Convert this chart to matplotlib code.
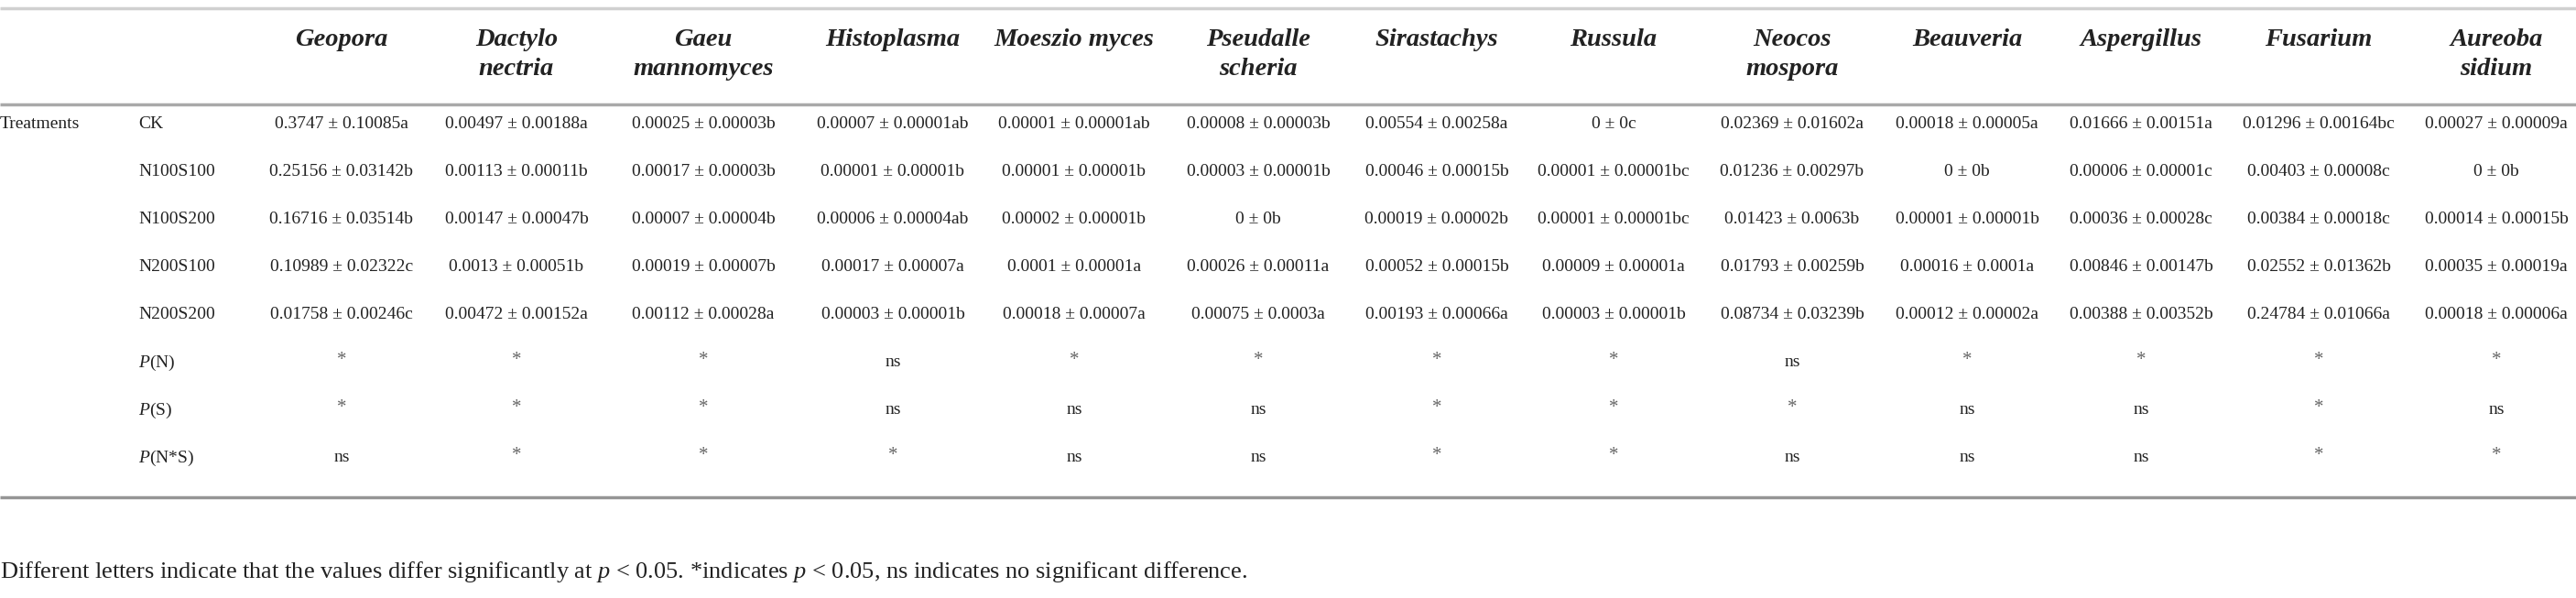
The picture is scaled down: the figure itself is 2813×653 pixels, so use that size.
import matplotlib
matplotlib.use("Agg")
import matplotlib.pyplot as plt

plt.rcParams['font.family'] = ['Liberation Serif', 'DejaVu Serif']
plt.rcParams['mathtext.fontset'] = 'custom'
plt.rcParams['mathtext.rm'] = 'Liberation Serif'
plt.rcParams['mathtext.it'] = 'Liberation Serif:italic'

# ---- data ----
genera = ["Geopora", "Dactylo\nnectria", "Gaeu\nmannomyces", "Histoplasma",
          "Moeszio myces", "Pseudalle\nscheria", "Sirastachys", "Russula",
          "Neocos\nmospora", "Beauveria", "Aspergillus", "Fusarium", "Aureoba\nsidium"]

treatments = ["CK", "N100S100", "N100S200", "N200S100", "N200S200"]

ck = ["0.3747 ± 0.10085a", "0.00497 ± 0.00188a", "0.00025 ± 0.00003b", "0.00007 ± 0.00001ab",
      "0.00001 ± 0.00001ab", "0.00008 ± 0.00003b", "0.00554 ± 0.00258a", "0 ± 0c",
      "0.02369 ± 0.01602a", "0.00018 ± 0.00005a", "0.01666 ± 0.00151a", "0.01296 ± 0.00164bc",
      "0.00027 ± 0.00009a"]
n100s100 = ["0.25156 ± 0.03142b", "0.00113 ± 0.00011b", "0.00017 ± 0.00003b", "0.00001 ± 0.00001b",
            "0.00001 ± 0.00001b", "0.00003 ± 0.00001b", "0.00046 ± 0.00015b", "0.00001 ± 0.00001bc",
            "0.01236 ± 0.00297b", "0 ± 0b", "0.00006 ± 0.00001c", "0.00403 ± 0.00008c", "0 ± 0b"]
n100s200 = ["0.16716 ± 0.03514b", "0.00147 ± 0.00047b", "0.00007 ± 0.00004b", "0.00006 ± 0.00004ab",
            "0.00002 ± 0.00001b", "0 ± 0b", "0.00019 ± 0.00002b", "0.00001 ± 0.00001bc",
            "0.01423 ± 0.0063b", "0.00001 ± 0.00001b", "0.00036 ± 0.00028c", "0.00384 ± 0.00018c",
            "0.00014 ± 0.00015b"]
n200s100 = ["0.10989 ± 0.02322c", "0.0013 ± 0.00051b", "0.00019 ± 0.00007b", "0.00017 ± 0.00007a",
            "0.0001 ± 0.00001a", "0.00026 ± 0.00011a", "0.00052 ± 0.00015b", "0.00009 ± 0.00001a",
            "0.01793 ± 0.00259b", "0.00016 ± 0.0001a", "0.00846 ± 0.00147b", "0.02552 ± 0.01362b",
            "0.00035 ± 0.00019a"]
n200s200 = ["0.01758 ± 0.00246c", "0.00472 ± 0.00152a", "0.00112 ± 0.00028a", "0.00003 ± 0.00001b",
            "0.00018 ± 0.00007a", "0.00075 ± 0.0003a", "0.00193 ± 0.00066a", "0.00003 ± 0.00001b",
            "0.08734 ± 0.03239b", "0.00012 ± 0.00002a", "0.00388 ± 0.00352b", "0.24784 ± 0.01066a",
            "0.00018 ± 0.00006a"]

p_labels = [r"$P$(N)", r"$P$(S)", r"$P$(N*S)"]
p_n = ["*", "*", "*", "ns", "*", "*", "*", "*", "ns", "*", "*", "*", "*"]
p_s = ["*", "*", "*", "ns", "ns", "ns", "*", "*", "*", "ns", "ns", "*", "ns"]
p_ns = ["ns", "*", "*", "*", "ns", "ns", "*", "*", "ns", "ns", "ns", "*", "*"]

footnote = (r"Different letters indicate that the values differ significantly at $p$ < 0.05. "
            r"*indicates $p$ < 0.05, ns indicates no significant difference.")

# ---- layout ----
W, H = 2813, 653
fig = plt.figure(figsize=(W / 100, H / 100), dpi=100)
ax = fig.add_axes([0, 0, 1, 1])
ax.set_xlim(0, W)
ax.set_ylim(H, 0)
ax.axis("off")

col_x = [373, 564, 768, 975, 1173, 1374, 1569, 1762, 1957, 2148, 2338, 2532, 2726]
row_y0, row_dy = 136, 52.0
body_fs = 14.0
txt_col = "#222222"

# rules
ax.plot([0, W], [9, 9], color="#d0d0d0", lw=2.5, solid_capstyle="butt")
ax.plot([0, W], [114, 114], color="#a9a9a9", lw=2.5, solid_capstyle="butt")
ax.plot([0, W], [543, 543], color="#959595", lw=2.5, solid_capstyle="butt")

# headers
for x, g in zip(col_x, genera):
    lines = g.split("\n")
    for k, ln in enumerate(lines):
        ax.text(x, 43 + 32 * k, ln, ha="center", va="center", fontsize=20.5,
                style="italic", weight="bold", color="#222222")

# row block
ax.text(0, row_y0, "Treatments", ha="left", va="center", fontsize=body_fs, color=txt_col)
rows = [ck, n100s100, n100s200, n200s100, n200s200]
for i, (lab, vals) in enumerate(zip(treatments, rows)):
    y = row_y0 + i * row_dy
    ax.text(151, y, lab, ha="left", va="center", fontsize=body_fs, color=txt_col)
    for x, v in zip(col_x, vals):
        ax.text(x, y, v, ha="center", va="center", fontsize=body_fs, color=txt_col)

for j, (lab, vals) in enumerate(zip(p_labels, [p_n, p_s, p_ns])):
    y = row_y0 + (5 + j) * row_dy
    ax.text(151, y, lab, ha="left", va="center", fontsize=body_fs, color=txt_col)
    for x, v in zip(col_x, vals):
        if v == "*":
            ax.text(x, y - 3, v, ha="center", va="center", fontsize=body_fs + 1, color="#666666")
        else:
            ax.text(x, y, v, ha="center", va="center", fontsize=body_fs, color=txt_col)

ax.text(0, 625, footnote, ha="left", va="center", fontsize=19, color=txt_col)

fig.savefig("out.png", dpi=100)
